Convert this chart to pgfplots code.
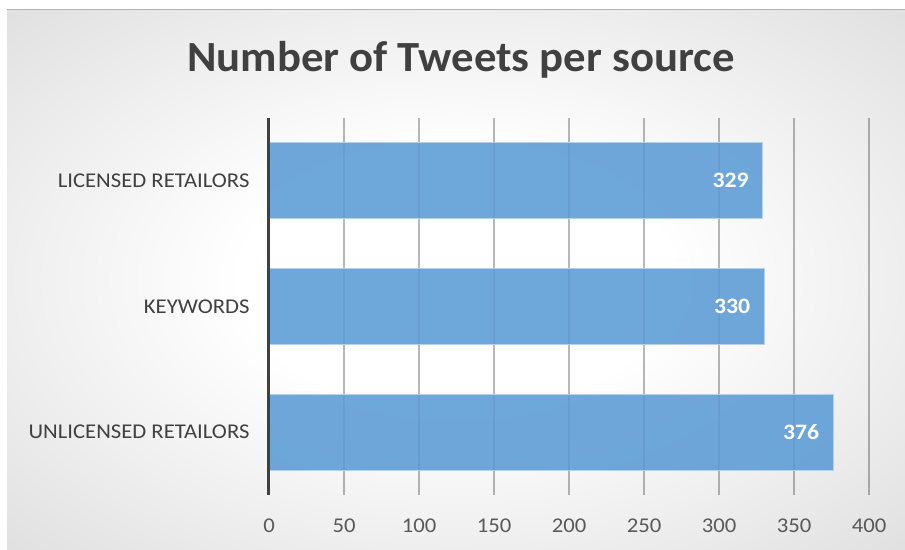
\documentclass[border=0pt]{standalone}
\usepackage{pgfplots}
\pgfplotsset{compat=1.18}
\usepackage{fontspec}
\setmainfont{Carlito}
\newfontfamily\catfont[FakeStretch=1.08]{Carlito}
\newfontfamily\titlefont[FakeStretch=1.04]{Carlito}
\definecolor{barblue}{RGB}{91,155,213}
\definecolor{titlegray}{RGB}{64,64,64}
\definecolor{ticklab}{RGB}{89,89,89}
\pgfdeclareradialshading{bgshade}{\pgfpoint{0bp}{0bp}}{color(0bp)=(white); color(12bp)=(white); color(55bp)=(black!22); color(80bp)=(black!27)}
\begin{document}
\begin{tikzpicture}
\useasboundingbox (0,0) rectangle (905pt,549pt);
\fill[white] (0,0) rectangle (905pt,549pt);
\shade[shading=bgshade] (7pt,0pt) rectangle (905pt,539pt);
\draw[black!30, line width=1pt] (7pt,539pt) -- (905pt,539pt);
\node[anchor=base, font=\titlefont\fontsize{43}{50}\selectfont\bfseries, text=titlegray] at (461pt,477pt) {Number of Tweets per source};
\begin{axis}[
  at={(269pt,54pt)}, anchor=south west,
  scale only axis, width=600pt, height=377pt,
  xbar, bar width=76pt,
  xmin=0, xmax=400, ymin=-0.5, ymax=2.5,
  xtick={0,50,...,400},
  ytick={0,1,2},
  yticklabels={UNLICENSED RETAILORS, KEYWORDS, LICENSED RETAILORS},
  axis x line=bottom, axis y line=left,
  x axis line style={draw=none},
  y axis line style={draw=none},
  major tick length=0pt,
  xmajorgrids,
  grid style={draw=black, opacity=0.28, line width=1.5pt},
  /pgf/number format/assume math mode=true,
  xticklabel style={font=\catfont\fontsize{21}{24}\selectfont, text=ticklab, yshift=-20pt},
  yticklabel style={font=\catfont\fontsize{21}{24}\selectfont, text=titlegray, xshift=-16pt},
  nodes near coords,
  nodes near coords style={anchor=east, xshift=-10pt, text=white, font=\catfont\fontsize{22}{24}\selectfont\bfseries},
  clip=false,
]
\addplot[fill=barblue, fill opacity=0.88, draw=barblue!45!white, line width=1pt, text opacity=1] coordinates {(376,0) (330,1) (329,2)};
\draw[titlegray, line width=3pt] (axis cs:0,-0.5) -- (axis cs:0,2.5);
\end{axis}
\end{tikzpicture}
\end{document}
